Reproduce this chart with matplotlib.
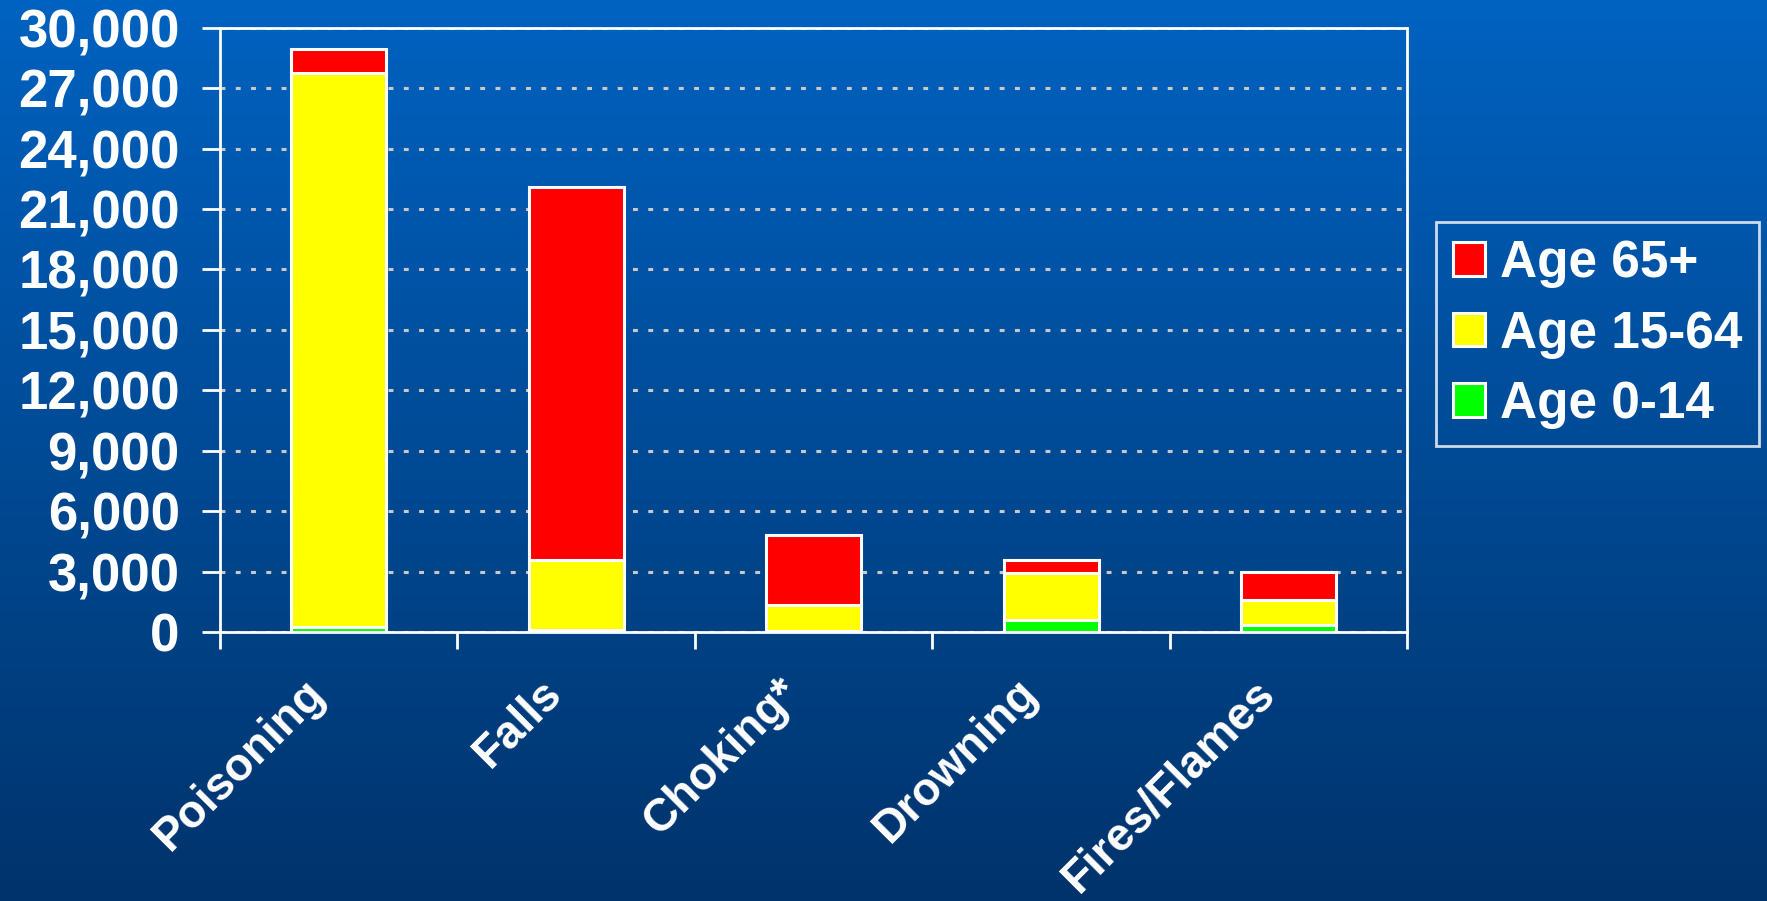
import numpy as np
import matplotlib.pyplot as plt
from matplotlib.colors import LinearSegmentedColormap
from matplotlib.ticker import FuncFormatter
from matplotlib.transforms import ScaledTranslation

plt.rcParams['font.family'] = ['Liberation Sans', 'DejaVu Sans']
plt.rcParams['font.weight'] = 'bold'

# deaths by cause, stacked by age group
causes = ["Poisoning", "Falls", "Choking*", "Drowning", "Fires/Flames"]
age_0_14 = [250, 80, 50, 600, 330]
age_15_64 = [27500, 3500, 1290, 2320, 1260]
age_65_plus = [1200, 18520, 3460, 660, 1380]

yticks = list(range(0, 30001, 3000))

fig = plt.figure(figsize=(17.67, 9.01), dpi=100)

# blue gradient backdrop
bg = fig.add_axes([0, 0, 1, 1], zorder=-1)
cmap = LinearSegmentedColormap.from_list("bg", ["#00336b", "#0062c0"])
grad = np.linspace(0, 1, 256).reshape(-1, 1)
bg.imshow(grad, aspect="auto", cmap=cmap, origin="lower", extent=[0, 1, 0, 1])
bg.axis("off")

ax = fig.add_axes([0.1245, 0.2986, 0.672, 0.6706])
ax.patch.set_alpha(0)

x = np.arange(len(causes))
w = 0.4
edge = dict(edgecolor="white", linewidth=2.2)
b1 = ax.bar(x, age_0_14, w, color="#00ff00", label="Age 0-14", zorder=3, **edge)
b2 = ax.bar(x, age_15_64, w, bottom=age_0_14, color="#ffff00", label="Age 15-64", zorder=3, **edge)
bot = np.array(age_0_14) + np.array(age_15_64)
b3 = ax.bar(x, age_65_plus, w, bottom=bot, color="#ff0000", label="Age 65+", zorder=3, **edge)

ax.set_xlim(-0.5, len(causes) - 0.5)
ax.set_ylim(0, 30000)
ax.set_yticks(yticks)
ax.yaxis.set_major_formatter(FuncFormatter(lambda v, p: f"{int(v):,}"))
ax.tick_params(axis="y", colors="white", labelsize=38, length=13, width=2, pad=16, direction="out")

ax.set_xticks(x)
ax.set_xticklabels(causes)
ax.set_xticks(np.arange(-0.5, len(causes), 1.0), minor=True)
ax.tick_params(axis="x", which="major", length=0, colors="white", labelsize=33, pad=28)
ax.tick_params(axis="x", which="minor", length=12, width=2, colors="white")
shift = ScaledTranslation(-0.36, 0, fig.dpi_scale_trans)
for lab in ax.get_xticklabels():
    lab.set_rotation(45)
    lab.set_ha("right")
    lab.set_va("top")
    lab.set_rotation_mode("anchor")
    lab.set_transform(lab.get_transform() + shift)

for s in ax.spines.values():
    s.set_color("white")
    s.set_linewidth(2)

ax.yaxis.grid(True, color="#c8c8c8", linewidth=2.2, linestyle=(0, (1.6, 3.4)), zorder=1)
ax.set_axisbelow(True)

leg = fig.legend(handles=[b3, b2, b1], loc="upper left", bbox_to_anchor=(0.8125, 0.7536),
                 borderaxespad=0, fontsize=37, frameon=True, fancybox=False,
                 handlelength=0.62, handleheight=0.62, handletextpad=0.3,
                 labelspacing=0.42, borderpad=0.33, labelcolor="white")
leg.get_frame().set_facecolor("none")
leg.get_frame().set_edgecolor("white")
leg.get_frame().set_linewidth(2)

fig.savefig("out.png", dpi=100)
